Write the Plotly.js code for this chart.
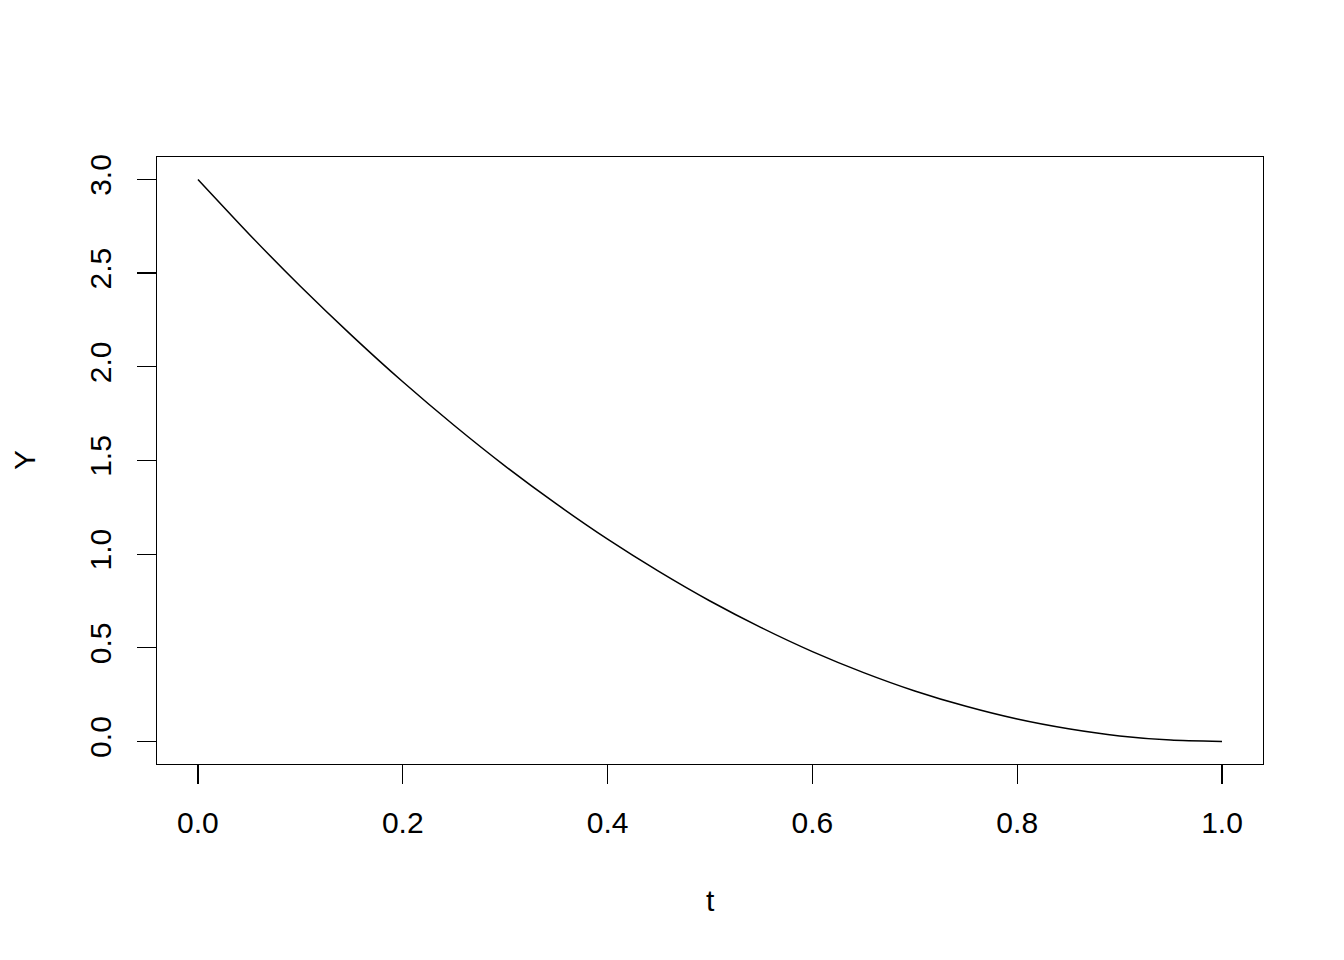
<!DOCTYPE html>
<html>
<head>
<meta charset="utf-8">
<script src="https://cdn.plot.ly/plotly-3.0.1.min.js"></script>
<style>html,body{margin:0;padding:0;background:#fff;}#chart{width:1344px;height:960px;}</style>
</head>
<body>
<div id="chart"></div>
<script>
const tValues = [0.00, 0.05, 0.10, 0.15, 0.20, 0.25, 0.30, 0.35, 0.40, 0.45, 0.50, 0.55, 0.60, 0.65, 0.70, 0.75, 0.80, 0.85, 0.90, 0.95, 1.00];
const yValues = [3.000, 2.708, 2.430, 2.168, 1.920, 1.688, 1.470, 1.268, 1.080, 0.908, 0.750, 0.608, 0.480, 0.368, 0.270, 0.188, 0.120, 0.068, 0.030, 0.008, 0.000];
const xTicks = [0, 0.2, 0.4, 0.6, 0.8, 1.0];
const xTickLabels = ["0.0", "0.2", "0.4", "0.6", "0.8", "1.0"];
const yTicks = [0, 0.5, 1.0, 1.5, 2.0, 2.5, 3.0];
const yTickLabels = ["0.0", "0.5", "1.0", "1.5", "2.0", "2.5", "3.0"];
const xLabel = "t";
const yLabel = "Y";

const font = {family: "Liberation Sans, Arial, Helvetica, sans-serif", size: 30, color: "#000"};

const trace = {
  x: tValues, y: yValues, type: "scatter", mode: "lines",
  line: {color: "#000", width: 1.5, shape: "spline", smoothing: 0.6},
  hoverinfo: "skip"
};

const layout = {
  width: 1344, height: 960,
  margin: {l: 157, r: 81, t: 157, b: 196},
  paper_bgcolor: "#fff", plot_bgcolor: "#fff",
  showlegend: false,
  font: font,
  xaxis: {
    range: [-0.04, 1.04], tickvals: xTicks, ticktext: xTickLabels,
    ticks: "outside", ticklen: 19, tickwidth: 1.3, tickcolor: "#000",
    showline: true, mirror: true, linecolor: "#000", linewidth: 1.3,
    showgrid: false, zeroline: false, tickfont: font, ticklabelstandoff: 13
  },
  yaxis: {
    range: [-0.12, 3.12], tickvals: yTicks, ticktext: yTickLabels,
    ticks: "outside", ticklen: 19, tickwidth: 1.3, tickcolor: "#000",
    showline: true, mirror: true, linecolor: "#000", linewidth: 1.3,
    showgrid: false, zeroline: false, tickfont: font, tickangle: -90, ticklabelstandoff: 14
  },
  annotations: [
    {text: xLabel, xref: "paper", yref: "paper", x: (710-157)/1106, y: (764-900)/607,
     xanchor: "center", yanchor: "middle", showarrow: false, font: font},
    {text: yLabel, xref: "paper", yref: "paper", x: (24-157)/1106, y: (764-460)/607,
     xanchor: "center", yanchor: "middle", showarrow: false, font: font, textangle: -90}
  ]
};

Plotly.newPlot("chart", [trace], layout, {displayModeBar: false, staticPlot: true});
</script>
</body>
</html>
